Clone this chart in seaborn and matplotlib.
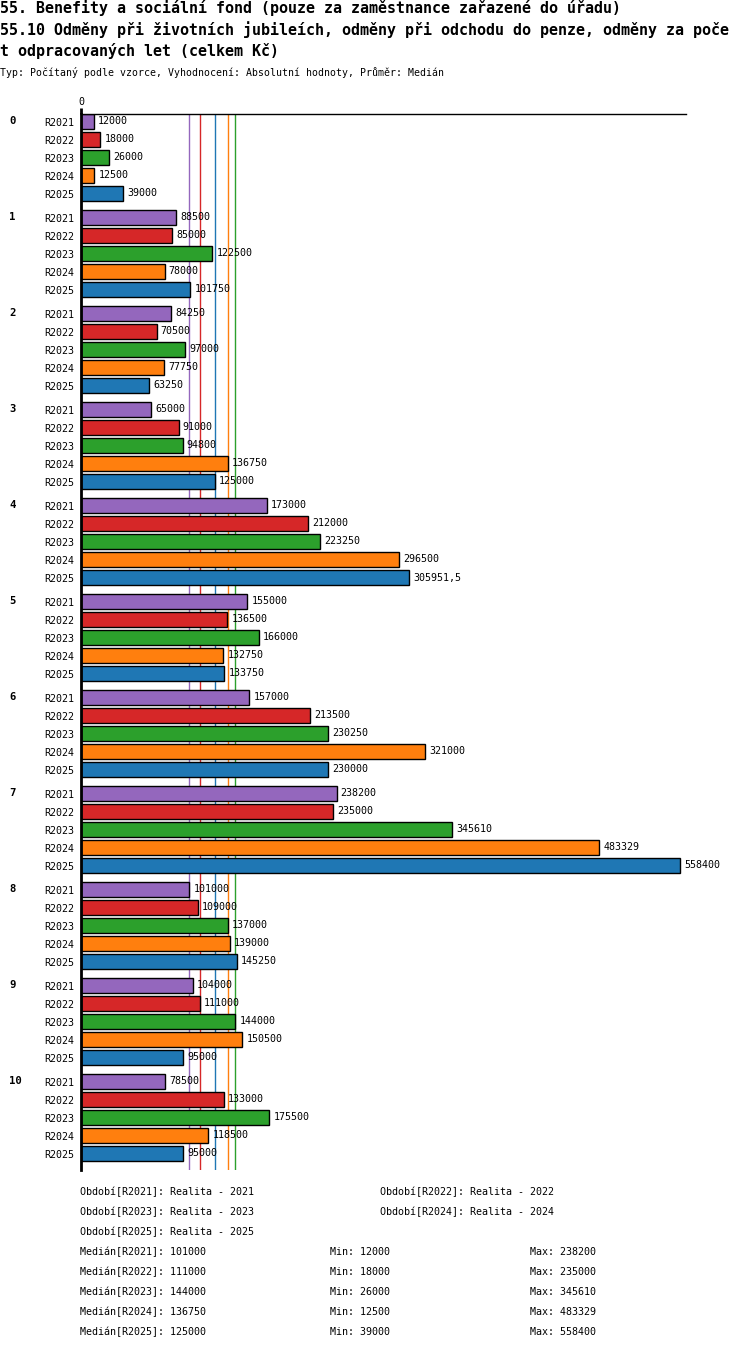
import matplotlib
matplotlib.use("Agg")
import matplotlib.pyplot as plt
import numpy as np
import pandas as pd
import seaborn as sns

# data
categories = ["0", "1", "2", "3", "4", "5", "6", "7", "8", "9", "10"]
series = ["R2021", "R2022", "R2023", "R2024", "R2025"]
r2021 = [12000, 88500, 84250, 65000, 173000, 155000, 157000, 238200, 101000, 104000, 78500]
r2022 = [18000, 85000, 70500, 91000, 212000, 136500, 213500, 235000, 109000, 111000, 133000]
r2023 = [26000, 122500, 97000, 94800, 223250, 166000, 230250, 345610, 137000, 144000, 175500]
r2024 = [12500, 78000, 77750, 136750, 296500, 132750, 321000, 483329, 139000, 150500, 118500]
r2025 = [39000, 101750, 63250, 125000, 305951.5, 133750, 230000, 558400, 145250, 95000, 95000]
period_names = ["Realita - 2021", "Realita - 2022", "Realita - 2023",
                "Realita - 2024", "Realita - 2025"]
colors = ["#9467bd", "#d62728", "#2ca02c", "#ff7f0e", "#1f77b4"]

values = [r2021, r2022, r2023, r2024, r2025]

W, H = 750, 1350
STEP, GAP, FIRST = 18, 6, 7.5      # pixel layout of the bar rows
GROUP = len(series) * STEP + GAP

rows = []
for g, cat in enumerate(categories):
    for j, s in enumerate(series):
        rows.append({"cat": cat, "series": s, "value": values[j][g],
                     "pos": FIRST + g * GROUP + j * STEP})
df = pd.DataFrame(rows)

sns.set_style("white")
plt.rcParams["font.family"] = ["DejaVu Sans Mono"]
for k in ["text.color", "axes.labelcolor", "xtick.color", "ytick.color"]:
    plt.rcParams[k] = "black"
FS = 7.2

fig = plt.figure(figsize=(W / 100, H / 100), dpi=100)
ax_l, ax_r, ax_t, ax_b = 81, 686, 114, 1170
ax = fig.add_axes([ax_l / W, 1 - ax_b / H, (ax_r - ax_l) / W, (ax_b - ax_t) / H])

sns.barplot(data=df, x="value", y="pos", hue="series", hue_order=series,
            palette=colors, saturation=1, orient="h", native_scale=True,
            dodge=False, width=15 / 18, errorbar=None, edgecolor="black",
            linewidth=1, legend=False, ax=ax)

xmax = 558400 * (ax_r - ax_l) / (680 - ax_l)
ax.set_xlim(0, xmax)
ax.set_ylim(ax_b - ax_t, 0)

medians = [np.median(v) for v in values]
for m, c in zip(medians, colors):
    ax.axvline(m, color=c, lw=1, zorder=0.5)

def fmt(v):
    return f"{int(v)}" if float(v).is_integer() else f"{v}".replace(".", ",")

for cont, s in zip(ax.containers, series):
    vals = df[df.series == s].value.tolist()
    ax.bar_label(cont, labels=[fmt(v) for v in vals], padding=3, fontsize=FS)

ax.set_yticks(df.pos, df.series)
ax.tick_params(axis="y", length=0, pad=5, labelsize=FS)
ax.xaxis.tick_top()
ax.set_xticks([0], ["0"])
ax.tick_params(axis="x", length=4.5, width=2, pad=0.5, labelsize=FS)
ax.set_xlabel("")
ax.set_ylabel("")

for sp in ["right", "bottom"]:
    ax.spines[sp].set_visible(False)
ax.spines["top"].set_linewidth(1)
ax.spines["left"].set_linewidth(2)
for sp in ["top", "left"]:
    ax.spines[sp].set_color("black")

for g, cat in enumerate(categories):
    ax.text((9 - ax_l) / (ax_r - ax_l), FIRST + g * GROUP, cat,
            transform=ax.get_yaxis_transform(), fontsize=FS + 0.5,
            fontweight="bold", va="center", ha="left")

# titles
title1 = "55. Benefity a sociální fond (pouze za zaměstnance zařazené do úřadu)"
title2 = "55.10 Odměny při životních jubileích, odměny při odchodu do penze, odměny za poče"
title3 = "t odpracovaných let (celkem Kč)"
for k, t in enumerate([title1, title2, title3]):
    fig.text(0, 1 - (8 + 21.5 * k) / H, t, fontsize=10.8, fontweight="bold",
             va="center", ha="left")
fig.text(0, 1 - 73 / H,
         "Typ: Počítaný podle vzorce, Vyhodnocení: Absolutní hodnoty, Průměr: Medián",
         fontsize=7.1, va="center", ha="left")

# footer
def ftext(x, y, s):
    fig.text(x / W, 1 - y / H, s, fontsize=FS, va="center", ha="left")

for j, (s, p) in enumerate(zip(series, period_names)):
    ftext(80 if j % 2 == 0 else 380, 1192 + 20 * (j // 2), f"Období[{s}]: {p}")
for j, s in enumerate(series):
    y = 1252 + 20 * j
    ftext(80, y, f"Medián[{s}]: {fmt(medians[j])}")
    ftext(330, y, f"Min: {fmt(min(values[j]))}")
    ftext(530, y, f"Max: {fmt(max(values[j]))}")

fig.savefig("out.png", dpi=100)
